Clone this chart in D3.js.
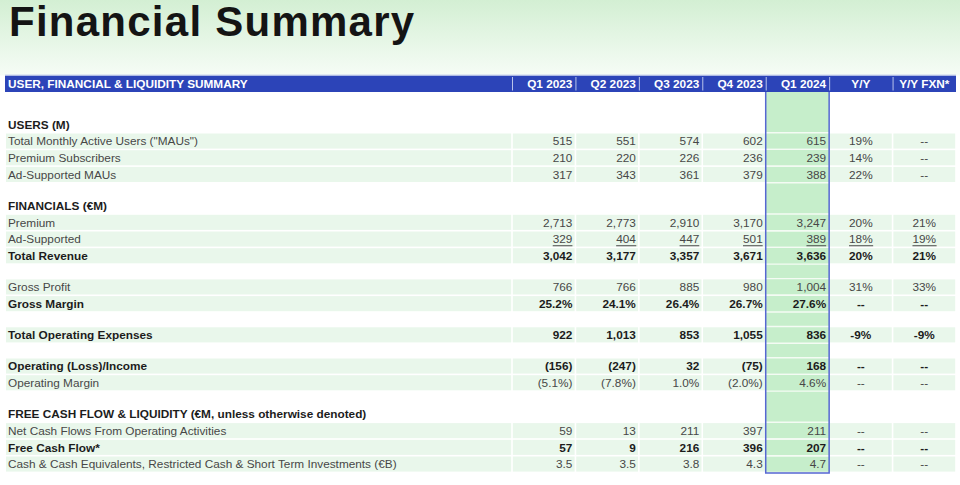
<!DOCTYPE html>
<html>
<head>
<meta charset="utf-8">
<script src="https://cdn.jsdelivr.net/npm/d3@7/dist/d3.min.js"></script>
<style>
  html, body { margin: 0; padding: 0; background: #fff; }
  svg { display: block; font-family: "Liberation Sans", Arial, Helvetica, sans-serif; }
</style>
</head>
<body>
<svg id="chart" width="960" height="485"></svg>
<script>
// ---------------- DATA ----------------
const title = "Financial Summary";
const tableTitle = "USER, FINANCIAL & LIQUIDITY SUMMARY";
const quarters = ["Q1 2023", "Q2 2023", "Q3 2023", "Q4 2023", "Q1 2024"];
const growthCols = ["Y/Y", "Y/Y FXN*"];
const highlightCol = "Q1 2024";

// row kinds: "gap" (blank), "section" (heading), "data"
const rowKinds  = ["gap", "section", "data", "data", "data", "gap", "section", "data", "data", "data", "gap", "data", "data", "gap", "data", "gap", "data", "data", "gap", "section", "data", "data", "data"];
const rowLabels = ["", "USERS (M)", "Total Monthly Active Users (\"MAUs\")", "Premium Subscribers", "Ad-Supported MAUs", "", "FINANCIALS (€M)", "Premium", "Ad-Supported", "Total Revenue", "", "Gross Profit", "Gross Margin", "", "Total Operating Expenses", "", "Operating (Loss)/Income", "Operating Margin", "", "FREE CASH FLOW & LIQUIDITY (€M, unless otherwise denoted)", "Net Cash Flows From Operating Activities", "Free Cash Flow*", "Cash & Cash Equivalents, Restricted Cash & Short Term Investments (€B)"];
const rowBold   = [false, true, false, false, false, false, true, false, false, true, false, false, true, false, true, false, true, false, false, true, false, true, false];
const rowUnderline = [false, false, false, false, false, false, false, false, true, false, false, false, false, false, false, false, false, false, false, false, false, false, false];
// format per row: "int", "pct1", "dec1"
const rowFormat = [null, null, "int", "int", "int", null, null, "int", "int", "int", null, "int", "pct1", null, "int", null, "int", "pct1", null, null, "int", "int", "dec1"];

// quarterly values (Q1 2023 .. Q1 2024)
const rowValues = [
  null, null,
  [515, 551, 574, 602, 615],
  [210, 220, 226, 236, 239],
  [317, 343, 361, 379, 388],
  null, null,
  [2713, 2773, 2910, 3170, 3247],
  [329, 404, 447, 501, 389],
  [3042, 3177, 3357, 3671, 3636],
  null,
  [766, 766, 885, 980, 1004],
  [25.2, 24.1, 26.4, 26.7, 27.6],
  null,
  [922, 1013, 853, 1055, 836],
  null,
  [-156, -247, 32, -75, 168],
  [-5.1, -7.8, 1.0, -2.0, 4.6],
  null, null,
  [59, 13, 211, 397, 211],
  [57, 9, 216, 396, 207],
  [3.5, 3.5, 3.8, 4.3, 4.7]
];
// growth (Y/Y, Y/Y FXN*) in %, null = "--"
const rowGrowth = [
  null, null,
  [19, null], [14, null], [22, null],
  null, null,
  [20, 21], [18, 19], [20, 21],
  null,
  [31, 33], [null, null],
  null,
  [-9, -9],
  null,
  [null, null], [null, null],
  null, null,
  [null, null], [null, null], [null, null]
];

// ---------------- STYLE / LAYOUT ----------------
const W = 960, H = 485;
const tableLeft = 5, labelColRight = 512, tableRight = 956;
const headerTop = 75.5, headerBottom = 92;
const rowH = 16.7, gapH = 14.5, firstGapH = 24;
const fs = 11.8;
const blue = "#2c44b8", rowFill = "#e9f7eb", hiFill = "#c6eecb", hiBorder = "#5667d2";
const textColor = "#474747", boldColor = "#1c1c1c";

const svg = d3.select("#chart");
const defs = svg.append("defs");
const grad = defs.append("linearGradient").attr("id", "bg").attr("x1", 0).attr("y1", 0).attr("x2", 0).attr("y2", 1);
grad.append("stop").attr("offset", "0%").attr("stop-color", "#d3efd3");
grad.append("stop").attr("offset", "100%").attr("stop-color", "#f6fcf6");
svg.append("rect").attr("width", W).attr("height", H).attr("fill", "#fff");
svg.append("rect").attr("width", W).attr("height", headerTop).attr("fill", "url(#bg)");

// title
svg.append("text").attr("x", 9).attr("y", 36)
  .attr("font-size", 42).attr("font-weight", "bold").attr("letter-spacing", 1.25).attr("fill", "#141414")
  .text(title);

// column scale
const columns = quarters.concat(growthCols);
const x = d3.scaleBand().domain(columns).range([labelColRight, tableRight]).padding(0);

// row positions
const rows = rowKinds.map((k, i) => ({
  i, kind: k, label: rowLabels[i], bold: rowBold[i], underline: rowUnderline[i],
  fmt: rowFormat[i], values: rowValues[i], growth: rowGrowth[i]
}));
let yCur = headerBottom;
rows.forEach((r, i) => {
  const h = r.kind === "gap" ? (i === 0 ? firstGapH : gapH) : rowH;
  r.y0 = yCur; r.h = h; yCur += h;
});
const tableBottom = yCur;

const fmtComma = d3.format(",");
const fmt1 = d3.format(".1f");
function fmtVal(v, f) {
  if (v == null) return "--";
  if (f === "int") return v < 0 ? "(" + fmtComma(-v) + ")" : fmtComma(v);
  if (f === "pct1") return v < 0 ? "(" + fmt1(-v) + "%)" : fmt1(v) + "%";
  if (f === "dec1") return fmt1(v);
  return String(v);
}
function fmtGrowth(v) { return v == null ? "--" : (v < 0 ? "-" : "") + Math.abs(v) + "%"; }

// highlight column background
const hx = x(highlightCol), hw = x.bandwidth();
svg.append("rect").attr("x", hx).attr("y", headerBottom).attr("width", hw)
  .attr("height", tableBottom - headerBottom + 0.5).attr("fill", hiFill);

// data row shading
const dataRows = rows.filter(r => r.kind === "data");
const cellGap = 1.6;
const rowG = svg.append("g");
dataRows.forEach(r => {
  rowG.append("rect").attr("x", tableLeft + 1).attr("y", r.y0 + cellGap / 2)
    .attr("width", labelColRight - tableLeft - 1 - cellGap / 2).attr("height", r.h - cellGap).attr("fill", rowFill);
  columns.forEach(c => {
    if (c === highlightCol) return;
    rowG.append("rect").attr("x", x(c) + cellGap / 2).attr("y", r.y0 + cellGap / 2)
      .attr("width", x.bandwidth() - cellGap).attr("height", r.h - cellGap).attr("fill", rowFill);
  });
  [r.y0, r.y0 + r.h].forEach(yy => {
    rowG.append("line").attr("x1", hx).attr("x2", hx + hw).attr("y1", yy).attr("y2", yy)
      .attr("stroke", "#f4fbf4").attr("stroke-width", 1.4);
  });
});

// header bar
svg.append("rect").attr("x", tableLeft).attr("y", headerTop).attr("width", tableRight - tableLeft)
  .attr("height", headerBottom - headerTop).attr("fill", blue);
svg.append("line").attr("x1", tableLeft).attr("x2", tableRight).attr("y1", headerTop - 0.5).attr("y2", headerTop - 0.5)
  .attr("stroke", "#c9d2ee").attr("stroke-width", 1);
const hy = (headerTop + headerBottom) / 2 + 4.2;
svg.append("text").attr("x", 8).attr("y", hy).attr("font-size", fs).attr("font-weight", "bold")
  .attr("fill", "#fff").text(tableTitle);
columns.forEach((c, j) => {
  svg.append("line").attr("x1", x(c) + 0.5).attr("x2", x(c) + 0.5).attr("y1", headerTop + 1.5).attr("y2", headerBottom - 1.5)
    .attr("stroke", "#b9c3ea").attr("stroke-width", 1);
  const isQ = j < quarters.length;
  svg.append("text")
    .attr("x", isQ ? x(c) + x.bandwidth() - 3 : x(c) + x.bandwidth() / 2)
    .attr("y", hy).attr("text-anchor", isQ ? "end" : "middle")
    .attr("font-size", fs).attr("font-weight", "bold").attr("fill", "#fff").text(c);
});

// highlight border
const hb = svg.append("g").attr("stroke", hiBorder).attr("stroke-width", 1.5).attr("fill", "none");
hb.append("path").attr("d", `M${hx},${headerBottom} V${tableBottom + 0.5} H${hx + hw} V${headerBottom}`);

// text
const tg = svg.append("g").attr("font-size", fs);
function addText(txt, xx, yy, anchor, bold, underline) {
  const t = tg.append("text").attr("x", xx).attr("y", yy).attr("text-anchor", anchor)
    .attr("font-weight", bold ? "bold" : "normal").attr("fill", bold ? boldColor : textColor).text(txt);
  if (underline) {
    const bb = t.node().getBBox();
    tg.append("line").attr("x1", bb.x).attr("x2", bb.x + bb.width).attr("y1", yy + 2.5).attr("y2", yy + 2.5)
      .attr("stroke", bold ? boldColor : textColor).attr("stroke-width", 1);
  }
  return t;
}
rows.forEach(r => {
  if (r.kind === "gap") return;
  const yy = r.y0 + r.h / 2 + 4.2;
  addText(r.label, 8, yy, "start", r.bold, false);
  if (r.kind !== "data") return;
  quarters.forEach((q, j) => {
    addText(fmtVal(r.values[j], r.fmt), x(q) + x.bandwidth() - 3, yy, "end", r.bold, r.underline);
  });
  growthCols.forEach((g, j) => {
    addText(fmtGrowth(r.growth[j]), x(g) + x.bandwidth() / 2, yy, "middle", r.bold, r.underline && r.growth[j] != null);
  });
});
</script>
</body>
</html>
